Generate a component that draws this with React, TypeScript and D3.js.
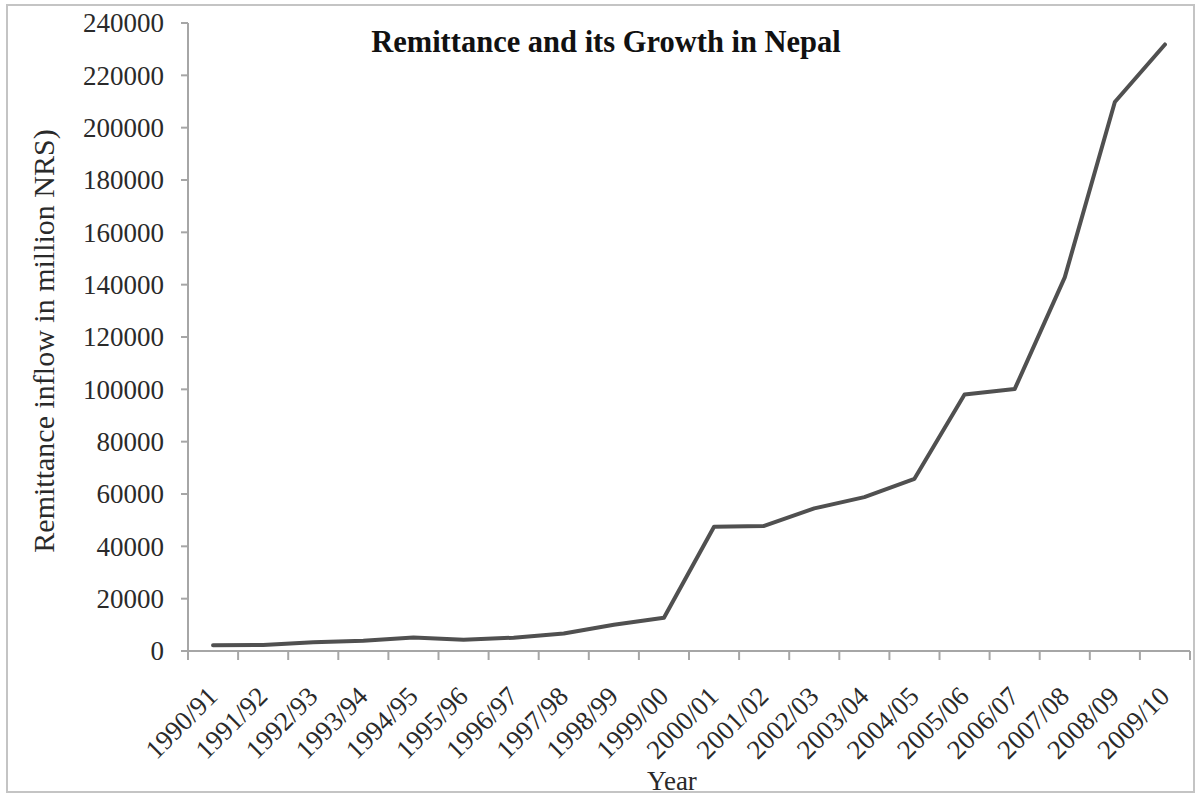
import React from "react";
import * as d3 from "d3";

const years = [
  "1990/91", "1991/92", "1992/93", "1993/94", "1994/95",
  "1995/96", "1996/97", "1997/98", "1998/99", "1999/00",
  "2000/01", "2001/02", "2002/03", "2003/04", "2004/05",
  "2005/06", "2006/07", "2007/08", "2008/09", "2009/10",
];

// Remittance inflow, million NRs
const remittance = [
  2200, 2300, 3300, 3900, 5200,
  4300, 5100, 6700, 10000, 12700,
  47500, 47800, 54500, 58800, 65800,
  98000, 100100, 142800, 209800, 231800,
];

const yTicks = [0, 20000, 40000, 60000, 80000, 100000, 120000, 140000, 160000, 180000, 200000, 220000, 240000];

const W = 1204;
const H = 799;
const plot = { left: 188, right: 1190, top: 23, bottom: 651 };
const FONT = "'Liberation Serif', 'Times New Roman', serif";

export default function App() {
  const x = d3.scaleBand<string>().domain(years).range([plot.left, plot.right]).padding(0);
  const y = d3.scaleLinear().domain([0, 240000]).range([plot.bottom, plot.top]);
  const cx = (d: string) => (x(d) as number) + x.bandwidth() / 2;

  const line = d3
    .line<number>()
    .x((_, i) => cx(years[i]))
    .y((v) => y(v));

  const boundaries = years.map((d) => x(d) as number).concat([plot.right]);

  return (
    <svg
      width={W}
      height={H}
      style={{ position: "absolute", left: 0, top: 0, background: "#fff" }}
      fontFamily={FONT}
    >
      <rect x={0} y={0} width={W} height={H} fill="#fff" />
      <rect x={7} y={5} width={1187} height={787} fill="none" stroke="#c4c4c4" strokeWidth={2} />

      {/* title */}
      <text x={606} y={52} textAnchor="middle" fontSize={30.5} fontWeight="bold" fill="#111">
        Remittance and its Growth in Nepal
      </text>

      {/* y axis */}
      <line x1={plot.left} x2={plot.left} y1={plot.top} y2={plot.bottom} stroke="#a6a6a6" strokeWidth={2} />
      {yTicks.map((t) => (
        <g key={t}>
          <line x1={plot.left - 7} x2={plot.left} y1={y(t)} y2={y(t)} stroke="#a6a6a6" strokeWidth={2} />
          <text x={164} y={y(t)} dy="0.35em" textAnchor="end" fontSize={27} fill="#2a2a2a">
            {t}
          </text>
        </g>
      ))}
      <text
        transform={`translate(54, 341) rotate(-90)`}
        textAnchor="middle"
        fontSize={30}
        fill="#2a2a2a"
      >
        Remittance inflow in million NRS)
      </text>

      {/* x axis */}
      <line x1={plot.left} x2={plot.right} y1={plot.bottom} y2={plot.bottom} stroke="#a6a6a6" strokeWidth={2} />
      {boundaries.map((b, i) => (
        <line key={i} x1={b} x2={b} y1={plot.bottom} y2={plot.bottom + 9} stroke="#a6a6a6" strokeWidth={2} />
      ))}
      {years.map((d) => (
        <text
          key={d}
          transform={`translate(${cx(d) + 6}, 698) rotate(-45)`}
          textAnchor="end"
          fontSize={27}
          fill="#2a2a2a"
        >
          {d}
        </text>
      ))}
      <text x={672} y={790} textAnchor="middle" fontSize={27} fill="#2a2a2a">
        Year
      </text>

      {/* series */}
      <path
        d={line(remittance) as string}
        fill="none"
        stroke="#505050"
        strokeWidth={4}
        strokeLinejoin="round"
        strokeLinecap="round"
      />
    </svg>
  );
}
